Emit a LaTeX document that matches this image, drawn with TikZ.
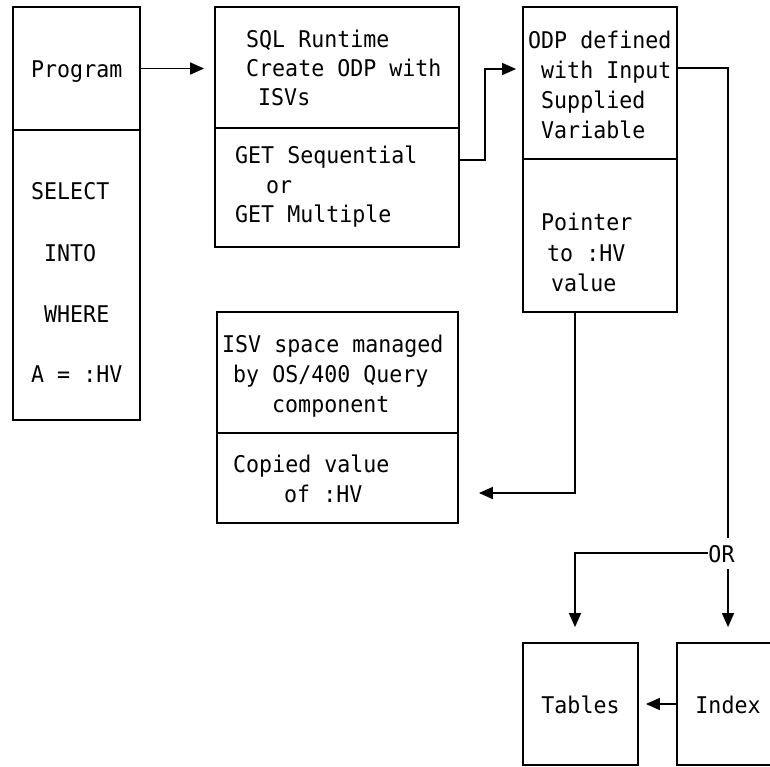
\documentclass[tikz,border=0pt]{standalone}
\usepackage{fontspec}
\newfontfamily\ibm[FakeStretch=0.94]{DejaVu Sans Mono}
\usetikzlibrary{arrows.meta,fit}
\begin{document}
\begin{tikzpicture}[x=1pt,y=-1pt,
  sect/.style={draw, line width=1.8pt, inner sep=0pt},
  txt/.style={font=\ibm\fontsize{23}{28}\selectfont, inner sep=0pt, anchor=base west},
  ctxt/.style={txt, anchor=base},
  conn/.style={line width=1.5pt},
  arr/.style={conn, -{Triangle[length=14pt,width=12pt]}}]
\useasboundingbox (0,0) rectangle (770,766);
\clip (0,0) rectangle (770,766);
% boxes
\node[sect, fit={(13,7) (140,130)}] (progtop) {};
\node[sect, fit={(13,130) (140,420)}] (progbot) {};
\node[sect, fit={(215,7) (459,128)}] (sqltop) {};
\node[sect, fit={(215,128) (459,247)}] (sqlbot) {};
\node[sect, fit={(523,7) (677,159)}] (odptop) {};
\node[sect, fit={(523,159) (677,312)}] (odpbot) {};
\node[sect, fit={(217,312) (458,433)}] (isvtop) {};
\node[sect, fit={(217,433) (458,523)}] (isvbot) {};
\node[sect, fit={(523,643) (638,765)}] (tab) {};
\node[sect, fit={(677,643) (800,765)}] (idx) {};
% texts
\node[txt] (p1) at (31,77) {Program};
\node[txt] (p2) at (31,199) {SELECT};
\node[txt] (p3) at (44,261) {INTO};
\node[txt] (p4) at (44,322) {WHERE};
\node[txt] (p5) at (31,382) {A = :HV};
\node[txt] (s1) at (246,47) {SQL Runtime};
\node[txt] (s2) at (246,76) {Create ODP with};
\node[txt] (s3) at (258,105) {ISVs};
\node[txt] (g1) at (235,163) {GET Sequential};
\node[txt] (g2) at (266,193) {or};
\node[txt] (g3) at (235,222) {GET Multiple};
\node[txt] (o1) at (528,48) {ODP defined};
\node[txt] (o2) at (541,78) {with Input};
\node[txt] (o3) at (541,108) {Supplied};
\node[txt] (o4) at (541,138) {Variable};
\node[txt] (q1) at (541,230) {Pointer};
\node[txt] (q2) at (547,261) {to :HV};
\node[txt] (q3) at (551,291) {value};
\node[txt] (i1) at (222,352) {ISV space managed};
\node[txt] (i2) at (233,382) {by OS/400 Query};
\node[txt] (i3) at (272,412) {component};
\node[txt] (c1) at (233,472) {Copied value};
\node[txt] (c2) at (284,502) {of :HV};
\node[ctxt] (tabtxt) at (580.5,713) {Tables};
\node[ctxt] (idxtxt) at (728,713) {Index};
\node[ctxt] (ortxt) at (721.5,562) {OR};
% connector coordinates around OR
\coordinate (ortop) at (728,538);
\coordinate (orbot) at (728,569);
\coordinate (orleft) at (708,553);
% connectors
\draw[arr, shorten >=10pt] (progtop.east) -- (progtop.east -| sqltop.west);
\draw[arr, shorten >=6pt] ([yshift=27.5pt]sqlbot.east) -- ++(25,0) |- ([yshift=14pt]odptop.west);
\draw[conn] ([yshift=15pt]odptop.east) -| (ortop);
\draw[arr, shorten >=15pt] (orbot) -- (orbot |- idx.north);
\draw[arr, shorten >=15pt] (orleft) -| ([xshift=-5.5pt]tab.north);
\draw[arr, shorten >=7pt] (idx.west) -- (idx.west -| tab.east);
\draw[arr, shorten >=20pt] ([xshift=-25pt]odpbot.south) |- ([yshift=-15pt]isvbot.east);
\end{tikzpicture}
\end{document}
